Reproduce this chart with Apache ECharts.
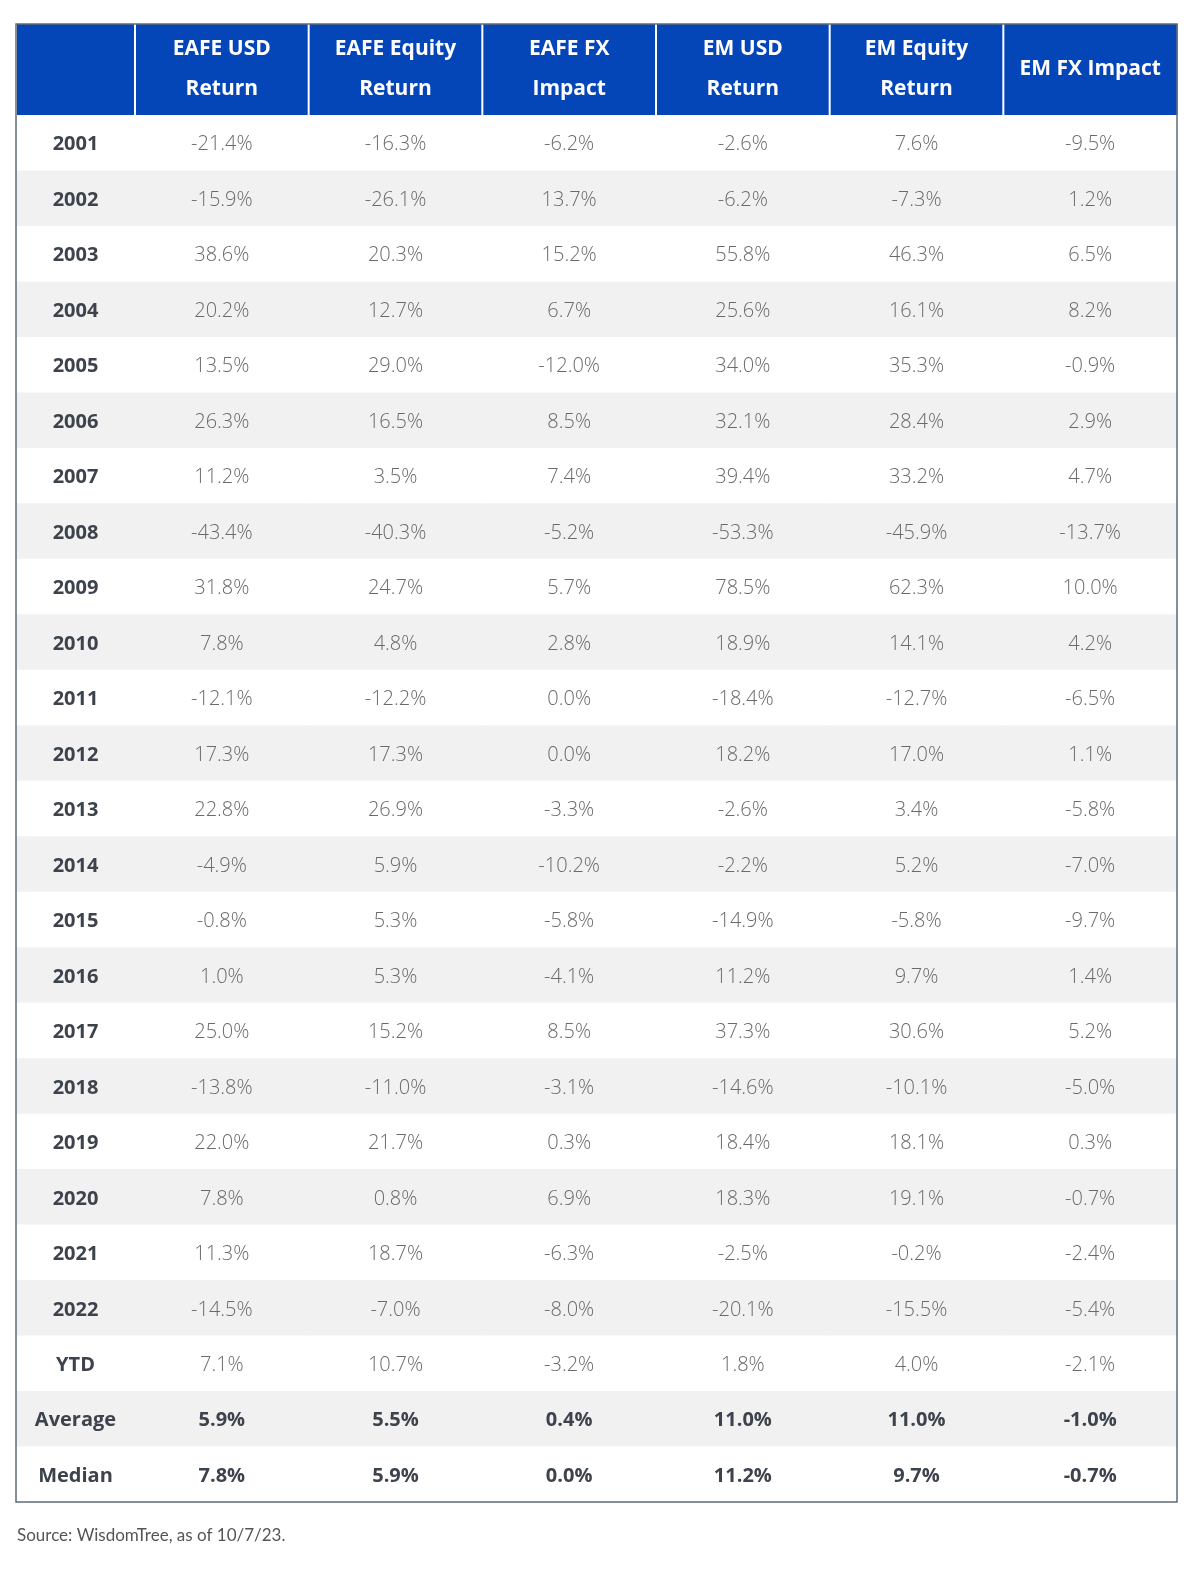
<!DOCTYPE html>
<html lang="en">
<head>
    <meta charset="UTF-8">
    <title>EAFE and EM returns</title>
    <script src="https://cdn.jsdelivr.net/npm/echarts@6/dist/echarts.min.js"></script>
    <style>
        html, body { margin: 0; padding: 0; background: #fff; }
        #main { width: 1200px; height: 1569px; }
    </style>
</head>
<body>
    <div id="main"></div>
    <script>
        // table data
        var rowLabels = ['2001', '2002', '2003', '2004', '2005', '2006', '2007', '2008', '2009', '2010',
            '2011', '2012', '2013', '2014', '2015', '2016', '2017', '2018', '2019', '2020',
            '2021', '2022', 'YTD', 'Average', 'Median'];
        var columnTitles = ['EAFE USD\nReturn', 'EAFE Equity\nReturn', 'EAFE FX\nImpact',
            'EM USD\nReturn', 'EM Equity\nReturn', 'EM FX Impact'];

        var eafeUsd = [-21.4, -15.9, 38.6, 20.2, 13.5, 26.3, 11.2, -43.4, 31.8, 7.8, -12.1, 17.3, 22.8,
            -4.9, -0.8, 1.0, 25.0, -13.8, 22.0, 7.8, 11.3, -14.5, 7.1, 5.9, 7.8];
        var eafeEquity = [-16.3, -26.1, 20.3, 12.7, 29.0, 16.5, 3.5, -40.3, 24.7, 4.8, -12.2, 17.3, 26.9,
            5.9, 5.3, 5.3, 15.2, -11.0, 21.7, 0.8, 18.7, -7.0, 10.7, 5.5, 5.9];
        var eafeFx = [-6.2, 13.7, 15.2, 6.7, -12.0, 8.5, 7.4, -5.2, 5.7, 2.8, 0.0, 0.0, -3.3,
            -10.2, -5.8, -4.1, 8.5, -3.1, 0.3, 6.9, -6.3, -8.0, -3.2, 0.4, 0.0];
        var emUsd = [-2.6, -6.2, 55.8, 25.6, 34.0, 32.1, 39.4, -53.3, 78.5, 18.9, -18.4, 18.2, -2.6,
            -2.2, -14.9, 11.2, 37.3, -14.6, 18.4, 18.3, -2.5, -20.1, 1.8, 11.0, 11.2];
        var emEquity = [7.6, -7.3, 46.3, 16.1, 35.3, 28.4, 33.2, -45.9, 62.3, 14.1, -12.7, 17.0, 3.4,
            5.2, -5.8, 9.7, 30.6, -10.1, 18.1, 19.1, -0.2, -15.5, 4.0, 11.0, 9.7];
        var emFx = [-9.5, 1.2, 6.5, 8.2, -0.9, 2.9, 4.7, -13.7, 10.0, 4.2, -6.5, 1.1, -5.8,
            -7.0, -9.7, 1.4, 5.2, -5.0, 0.3, -0.7, -2.4, -5.4, -2.1, -1.0, -0.7];

        var columns = [eafeUsd, eafeEquity, eafeFx, emUsd, emEquity, emFx];
        var summaryRows = ['Average', 'Median'];

        var BLUE = '#0446b8';
        var STRIPE = '#f1f1f1';
        var LABEL_COLOR = '#3c434c';
        var VALUE_COLOR = '#6a6a6a';
        var BORDER = '#5f6b78';

        var colIdx = columnTitles.map(function (d, i) { return i; });

        // cell items: [column, row]; text kept alongside by index
        var valueCells = [], valueTexts = [];
        columns.forEach(function (col, c) {
            col.forEach(function (v, r) {
                valueCells.push([c, r]);
                valueTexts.push(v.toFixed(1) + '%');
            });
        });
        var labelCells = rowLabels.map(function (l, r) { return [0, r]; });

        function cellBox(api) {
            var p = api.coord([api.value(0), api.value(1)]);
            var s = api.size([1, 1]);
            return { x: p[0] - s[0] / 2, y: p[1] - s[1] / 2, w: s[0], h: s[1], cx: p[0], cy: p[1] };
        }

        function renderBodyCell(texts, bold) {
            return function (params, api) {
                var b = cellBox(api);
                var r = api.value(1);
                var summary = summaryRows.indexOf(rowLabels[r]) >= 0;
                var strong = bold || summary;
                return {
                    type: 'group',
                    children: [{
                        type: 'rect',
                        shape: { x: b.x, y: b.y, width: b.w + 0.5, height: b.h + 0.5 },
                        style: { fill: r % 2 === 1 ? STRIPE : '#ffffff' }
                    }, {
                        type: 'text',
                        x: b.cx, y: b.cy + 2,
                        style: {
                            text: texts[params.dataIndex],
                            fill: strong ? LABEL_COLOR : VALUE_COLOR,
                            font: (strong ? 'bold ' : '300 ') + '20px "Open Sans", Lato, sans-serif',
                            textAlign: 'center',
                            textVerticalAlign: 'middle'
                        }
                    }]
                };
            };
        }

        function renderHeaderCell(titles) {
            return function (params, api) {
                var b = cellBox(api);
                var children = [{
                    type: 'rect',
                    shape: { x: b.x, y: b.y, width: b.w + 0.5, height: b.h },
                    style: { fill: BLUE }
                }, {
                    type: 'line',
                    shape: { x1: b.x, y1: b.y, x2: b.x, y2: b.y + b.h },
                    style: { stroke: '#ffffff', lineWidth: 2 }
                }];
                var t = titles[params.dataIndex];
                if (t) {
                    children.push({
                        type: 'text',
                        x: b.cx, y: b.cy,
                        style: {
                            text: t,
                            fill: '#ffffff',
                            font: 'bold 21px "Open Sans", sans-serif',
                            lineHeight: 40,
                            textAlign: 'center',
                            textVerticalAlign: 'middle'
                        }
                    });
                }
                return { type: 'group', children: children };
            };
        }

        function renderFrame(params, api) {
            var cs = params.coordSys;
            return {
                type: 'rect',
                shape: { x: cs.x, y: cs.y, width: cs.width, height: cs.height },
                style: { fill: 'none', stroke: BORDER, lineWidth: 1.5 }
            };
        }

        var hiddenAxis = { show: false };

        var myChart = echarts.init(document.getElementById('main'));
        var option = {
            animation: false,
            title: {
                text: 'Source: WisdomTree, as of 10/7/23.',
                left: 12, top: 1522,
                textStyle: { fontSize: 17, fontWeight: 'normal', color: '#555', fontFamily: 'Lato, "Open Sans", sans-serif' }
            },
            grid: [
                { left: 16, top: 115, width: 119, height: 1387 },   // body labels
                { left: 135, top: 115, width: 1042, height: 1387 }, // body values
                { left: 16, top: 24, width: 119, height: 91 },      // header corner
                { left: 135, top: 24, width: 1042, height: 91 },    // header titles
                { left: 16, top: 24, width: 1161, height: 1478 }    // outer frame
            ],
            xAxis: [
                Object.assign({ type: 'category', gridIndex: 0, data: ['label'] }, hiddenAxis),
                Object.assign({ type: 'category', gridIndex: 1, data: colIdx }, hiddenAxis),
                Object.assign({ type: 'category', gridIndex: 2, data: ['corner'] }, hiddenAxis),
                Object.assign({ type: 'category', gridIndex: 3, data: colIdx }, hiddenAxis),
                Object.assign({ type: 'category', gridIndex: 4, data: ['frame'] }, hiddenAxis)
            ],
            yAxis: [
                Object.assign({ type: 'category', gridIndex: 0, data: rowLabels, inverse: true }, hiddenAxis),
                Object.assign({ type: 'category', gridIndex: 1, data: rowLabels, inverse: true }, hiddenAxis),
                Object.assign({ type: 'category', gridIndex: 2, data: ['head'] }, hiddenAxis),
                Object.assign({ type: 'category', gridIndex: 3, data: ['head'] }, hiddenAxis),
                Object.assign({ type: 'category', gridIndex: 4, data: ['frame'] }, hiddenAxis)
            ],
            series: [
                { type: 'custom', xAxisIndex: 0, yAxisIndex: 0, renderItem: renderBodyCell(rowLabels, true), data: labelCells, z: 2 },
                { type: 'custom', xAxisIndex: 1, yAxisIndex: 1, renderItem: renderBodyCell(valueTexts, false), data: valueCells, z: 2 },
                { type: 'custom', xAxisIndex: 2, yAxisIndex: 2, renderItem: renderHeaderCell(['']), data: [[0, 0]], z: 3 },
                { type: 'custom', xAxisIndex: 3, yAxisIndex: 3, renderItem: renderHeaderCell(columnTitles), data: colIdx.map(function (c) { return [c, 0]; }), z: 3 },
                { type: 'custom', xAxisIndex: 4, yAxisIndex: 4, renderItem: renderFrame, data: [[0, 0]], z: 5 }
            ]
        };
        myChart.setOption(option);
    </script>
</body>
</html>
